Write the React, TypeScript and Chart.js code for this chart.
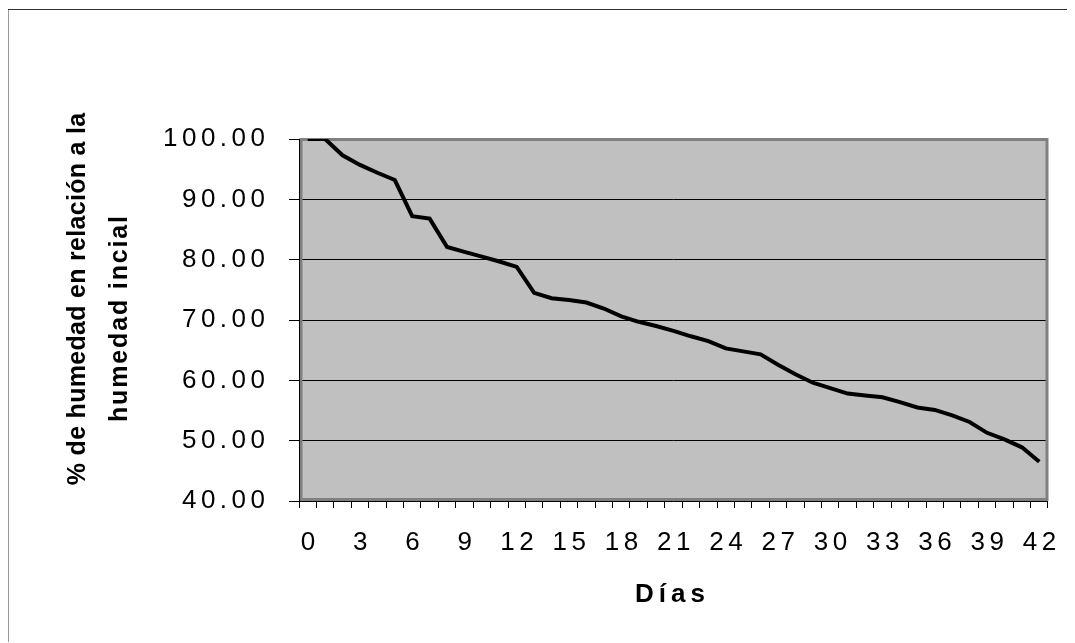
import React, { useEffect, useRef } from "react";
import { Chart, registerables } from "chart.js";

Chart.register(...registerables);

const days = [
  "0", "1", "2", "3", "4", "5", "6", "7", "8", "9", "10",
  "11", "12", "13", "14", "15", "16", "17", "18", "19", "20",
  "21", "22", "23", "24", "25", "26", "27", "28", "29", "30",
  "31", "32", "33", "34", "35", "36", "37", "38", "39", "40",
  "41", "42",
];

const humidity = [
  100.0, 100.0, 97.3, 95.7, 94.4, 93.2, 87.2, 86.8, 82.1, 81.3, 80.5,
  79.7, 78.8, 74.5, 73.6, 73.3, 72.9, 71.9, 70.6, 69.7, 69.0,
  68.2, 67.3, 66.5, 65.3, 64.8, 64.3, 62.6, 61.0, 59.6, 58.7,
  57.8, 57.5, 57.2, 56.4, 55.5, 55.1, 54.2, 53.1, 51.3, 50.2,
  48.9, 46.5,
];

const yTickValues = [40, 50, 60, 70, 80, 90, 100];
const xLabelEvery = 3;
const yTitleLines = ["% de humedad en relación a la", "humedad incial"];
const xTitle = "Días";

const FONT = '"Liberation Sans", Arial, sans-serif';
const W = 1068;
const H = 634;

export default function App() {
  const ref = useRef<HTMLCanvasElement>(null);

  useEffect(() => {
    document.documentElement.style.overflow = "hidden";
    const canvas = ref.current;
    if (!canvas) return;

    const excelPlugin = {
      id: "excelStyle",
      beforeDraw(chart: any) {
        const { ctx, chartArea: a } = chart;
        ctx.save();
        // outer chart frame (left and top edges visible)
        ctx.fillStyle = "#333";
        ctx.fillRect(0, 0, W, 1);
        ctx.fillRect(0, 0, 1.5, H);
        ctx.fillStyle = "#C0C0C0";
        ctx.fillRect(a.left, a.top, a.right - a.left, a.bottom - a.top);
        ctx.restore();
        (ctx as any).letterSpacing = "4.5px";
      },
      beforeDatasetsDraw(chart: any) {
        const { ctx, chartArea: a } = chart;
        ctx.save();
        ctx.strokeStyle = "#808080";
        ctx.lineWidth = 3;
        ctx.strokeRect(a.left + 2, a.top + 0.5, a.right - a.left - 3, a.bottom - a.top - 2);
        ctx.strokeStyle = "#000";
        ctx.lineWidth = 1;
        ctx.beginPath();
        ctx.moveTo(a.left + 0.5, a.top);
        ctx.lineTo(a.left + 0.5, a.bottom + 0.5);
        ctx.lineTo(a.right, a.bottom + 0.5);
        ctx.stroke();
        ctx.restore();
      },
      afterDraw(chart: any) {
        const { ctx } = chart;
        ctx.save();
        ctx.fillStyle = "#000";
        ctx.font = `bold 25px ${FONT}`;
        ctx.textAlign = "center";
        ctx.textBaseline = "alphabetic";
        const lineX = [78, 120];
        const lineY = [290, 310];
        const spacing = [0.3, 1.85];
        yTitleLines.forEach((t, i) => {
          ctx.save();
          (ctx as any).letterSpacing = `${spacing[i]}px`;
          ctx.translate(lineX[i], lineY[i]);
          ctx.rotate(-Math.PI / 2);
          ctx.fillText(t, spacing[i] / 2, 0);
          ctx.restore();
        });
        (ctx as any).letterSpacing = "5px";
        ctx.font = `bold 26px ${FONT}`;
        ctx.fillText(xTitle, 663 + 2.5, 593);
        ctx.restore();
      },
    };

    const chart = new Chart(canvas, {
      type: "line",
      data: {
        labels: days,
        datasets: [
          {
            data: humidity,
            borderColor: "#000",
            borderWidth: 4,
            pointRadius: 0,
            tension: 0,
            fill: false,
          },
        ],
      },
      options: {
        animation: false,
        responsive: false,
        devicePixelRatio: 1,
        layout: { padding: { top: 130, right: W - 1041, left: 0, bottom: 0 } },
        plugins: { legend: { display: false }, tooltip: { enabled: false } },
        scales: {
          x: {
            type: "category",
            offset: true,
            grid: {
              offset: true,
              drawOnChartArea: false,
              color: "#000",
              tickColor: "#000",
              tickLength: 7,
            },
            border: { display: false },
            ticks: {
              autoSkip: false,
              maxRotation: 0,
              minRotation: 0,
              padding: 19,
              labelOffset: 2.5,
              color: "#000",
              font: { family: FONT, size: 26 },
              callback: (_v: any, i: number) => (i % xLabelEvery === 0 ? days[i] : ""),
            },
            afterFit: (s: any) => {
              s.height = H - 492;
            },
          },
          y: {
            min: 40,
            max: 100,
            grid: {
              color: (c: any) =>
                c.tick && (c.tick.value === 40 || c.tick.value === 100) ? "rgba(0,0,0,0)" : "#000",
              tickColor: "#000",
              tickLength: 10,
              lineWidth: 1,
            },
            border: { display: false },
            afterBuildTicks: (s: any) => {
              s.ticks = yTickValues.map((v) => ({ value: v }));
            },
            ticks: {
              padding: 19.5,
              color: "#000",
              font: { family: FONT, size: 26 },
              callback: (v: any) => Number(v).toFixed(2),
            },
            afterFit: (s: any) => {
              s.width = 292;
            },
          },
        },
      },
      plugins: [excelPlugin],
    });

    return () => chart.destroy();
  }, []);

  return (
    <div style={{ position: "relative", left: -1, top: 1, width: W, height: H }}>
      <canvas ref={ref} width={W} height={H} style={{ display: "block" }} />
    </div>
  );
}
